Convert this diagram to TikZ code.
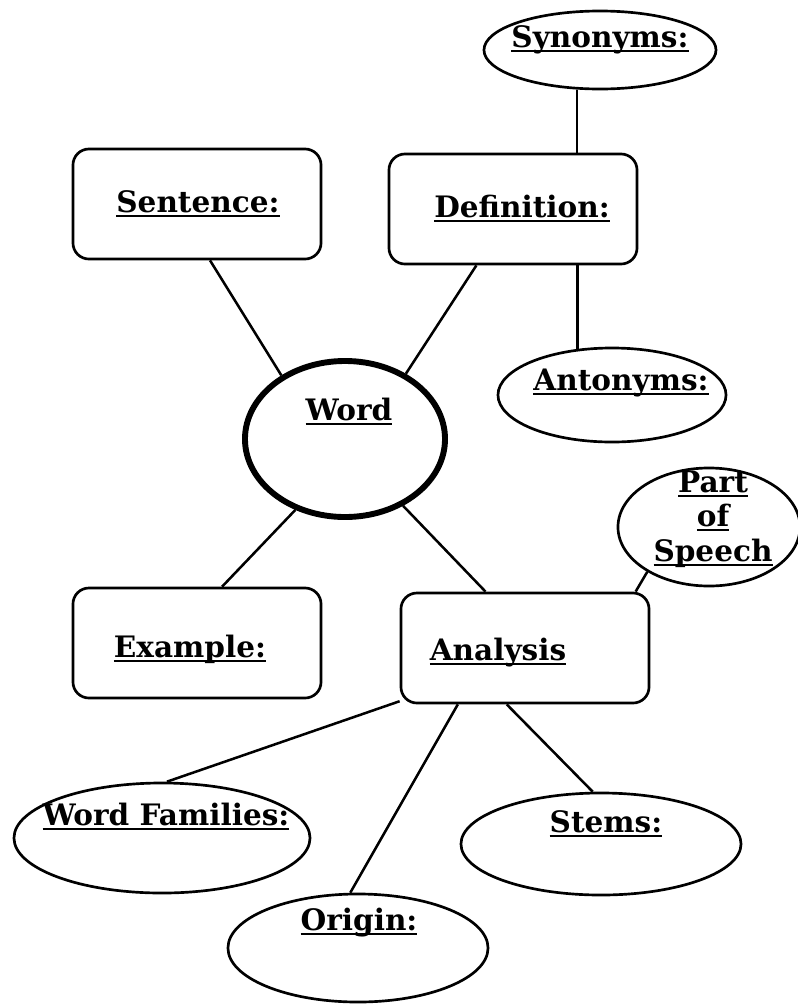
\documentclass[tikz,border=0pt]{standalone}
\usepackage{fontspec}
\setmainfont{DejaVu Serif}
\usetikzlibrary{shapes.geometric}
\newcommand{\uword}[1]{\setbox0=\hbox{#1}\rlap{\vrule height -1.8pt depth 3.4pt width \wd0}\box0}

\begin{document}
\begin{tikzpicture}[x=0.025cm,y=-0.025cm,
        wordbox/.style={draw,line width=1.9pt,rounded corners=0.4cm,minimum width=6.2cm,minimum height=2.75cm,inner sep=0pt},
        wordoval/.style={draw,ellipse,line width=1.9pt,inner sep=0pt},
        labeltext/.style={font=\bfseries\fontsize{21}{24.5}\selectfont,anchor=base,inner sep=0pt},
        spoke/.style={line width=1.8pt}]
        \useasboundingbox (0,0) rectangle (797,1007);
        % shapes
        \node[wordoval,minimum width=5.8cm,minimum height=1.95cm] (syn) at (600,50) {};
        \node[wordbox] (sent) at (197,204) {};
        \node[wordbox] (def) at (513,209) {};
        \node[wordoval,minimum width=5.7cm,minimum height=2.35cm] (ant) at (612,395) {};
        \node[wordoval,line width=4.2pt,minimum width=5cm,minimum height=3.9cm] (word) at (345,439) {};
        \node[wordoval,minimum width=4.55cm,minimum height=2.95cm] (pos) at (709,527) {};
        \node[wordbox] (exa) at (197,643) {};
        \node[wordbox] (ana) at (525,648) {};
        \node[wordoval,minimum width=7.4cm,minimum height=2.75cm] (fam) at (162,838) {};
        \node[wordoval,minimum width=6.5cm,minimum height=2.7cm] (ori) at (358,948) {};
        \node[wordoval,minimum width=7cm,minimum height=2.55cm] (stem) at (601,844) {};
        % texts
        \node[labeltext] (syntext) at (600,47) {\uword{Synonyms:}};
        \node[labeltext] (senttext) at (198,212) {\uword{Sentence:}};
        \node[labeltext] (deftext) at (522,217) {\uword{Definition:}};
        \node[labeltext] (anttext) at (621,390) {\uword{Antonyms:}};
        \node[labeltext] (wordtext) at (349,420) {\uword{Word}};
        \node[labeltext,anchor=center,align=center] (postext) at (713,519) {\uword{Part}\\\uword{of}\\\uword{Speech}};
        \node[labeltext] (exatext) at (190,657) {\uword{Example:}};
        \node[labeltext] (anatext) at (498,660) {\uword{Analysis}};
        \node[labeltext] (famtext) at (166,825) {\uword{Word Families:}};
        \node[labeltext] (stemtext) at (606,832) {\uword{Stems:}};
        \node[labeltext] (oritext) at (359,930) {\uword{Origin:}};
        % connectors
        \draw[spoke] (syn.240) -- (syn.240 |- def.north);
        \draw[spoke] (ant.127 |- def.south) -- (ant.127);
        \draw[spoke] (sent.283) -- (word.135);
        \draw[spoke] (def.237) -- (word.47);
        \draw[spoke] (word.235) -- (exa.66);
        \draw[spoke] (word.311) -- (ana.125);
        \draw[spoke] (ana.27) -- (pos.216);
        \draw[spoke] (ana.203) -- (fam.85);
        \draw[spoke] (ana.220) -- (ori.98);
        \draw[spoke] (ana.252) -- (stem.99);
\end{tikzpicture}
\end{document}
